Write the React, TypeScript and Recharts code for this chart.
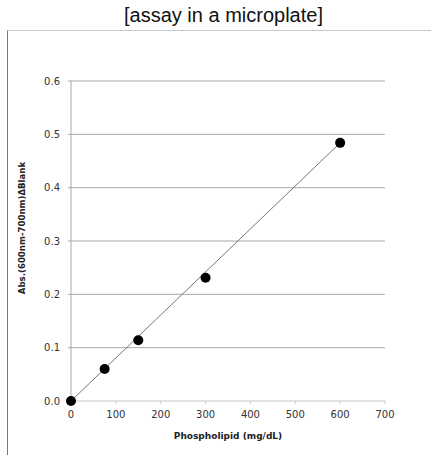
import {
  ScatterChart,
  Scatter,
  XAxis,
  YAxis,
  CartesianGrid,
} from "recharts";

// phospholipid concentration (mg/dL) and blank-corrected absorbance
const concentrations = [0, 75, 150, 300, 600];
const absorbances = [0.0, 0.06, 0.114, 0.231, 0.484];

// ends of the drawn regression line
const fitX = [0, 600];
const fitY = [0.0, 0.484];

const xTicks = [0, 100, 200, 300, 400, 500, 600, 700];
const yTicks = [0, 0.1, 0.2, 0.3, 0.4, 0.5, 0.6];

const points = concentrations.map((x, i) => ({ x, y: absorbances[i] }));
const fitLine = fitX.map((x, i) => ({ x, y: fitY[i] }));

const tickFont = { fontFamily: "DejaVu Sans", fontSize: 10, fill: "#333" };

// rotated y title, sits a bit above the plot centre like in the original
const YTitle = () => {
  const cx = 22;
  const cy = 228;
  return (
    <text
      x={cx}
      y={cy}
      transform={`rotate(-90, ${cx}, ${cy})`}
      textAnchor="middle"
      dominantBaseline="central"
      fontFamily="DejaVu Sans"
      fontWeight="bold"
      fontSize={8.6}
      fill="#222"
    >
      Abs.(600nm-700nm)ΔBlank
    </text>
  );
};

export default function App() {
  return (
    <div
      style={{
        position: "absolute",
        left: 0,
        top: 0,
        width: 431,
        height: 455,
        background: "#fff",
      }}
    >
      {/* title */}
      <div
        style={{
          position: "absolute",
          left: 0,
          top: 4,
          width: 447,
          textAlign: "center",
          fontFamily: "Liberation Sans",
          fontSize: 20,
          color: "#111",
        }}
      >
        [assay in a microplate]
      </div>
      {/* frame */}
      <div
        style={{
          position: "absolute",
          left: 7,
          top: 30,
          width: 424,
          height: 425,
          borderTop: "1px solid #c8c8c8",
          borderLeft: "1px solid #7a7a7a",
        }}
      />
      <div style={{ position: "absolute", left: 0, top: 0 }}>
        <ScatterChart
          width={431}
          height={455}
          margin={{ top: 81, right: 46, left: 11, bottom: 0 }}
        >
          <CartesianGrid
            vertical={false}
            stroke="#a8a8a8"
            horizontalValues={[0.1, 0.2, 0.3, 0.4, 0.5, 0.6]}
          />
          <XAxis
            type="number"
            dataKey="x"
            domain={[0, 700]}
            ticks={xTicks}
            height={54}
            tick={tickFont}
            tickSize={3}
            tickMargin={7}
            stroke="#c8c8c8"
            label={{
              value: "Phospholipid (mg/dL)",
              position: "insideBottom",
              offset: 16,
              style: {
                fontFamily: "DejaVu Sans",
                fontWeight: "bold",
                fontSize: 9,
                fill: "#222",
              },
            }}
          />
          <YAxis
            type="number"
            dataKey="y"
            domain={[0, 0.6]}
            ticks={yTicks}
            width={60}
            tick={tickFont}
            tickSize={3}
            tickMargin={8}
            stroke="#a8a8a8"
            tickFormatter={(v: number) => v.toFixed(1)}
            label={<YTitle />}
          />
          <Scatter
            data={fitLine}
            line={{ stroke: "#777", strokeWidth: 1 }}
            shape={() => null}
            isAnimationActive={false}
          />
          <Scatter
            data={points}
            fill="#000"
            shape={(p: any) => <circle cx={p.cx} cy={p.cy} r={5} fill="#000" />}
            isAnimationActive={false}
          />
        </ScatterChart>
      </div>
    </div>
  );
}
